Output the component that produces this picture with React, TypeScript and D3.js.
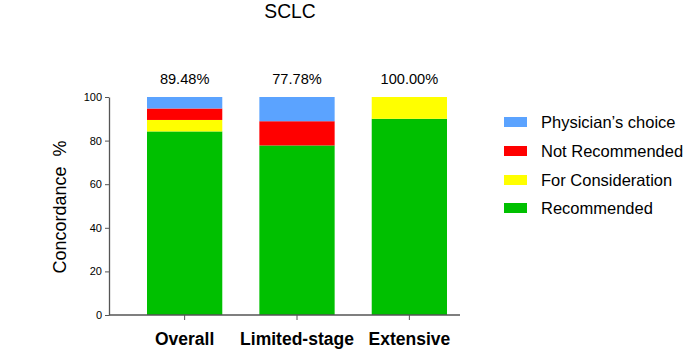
import React, { useEffect, useRef } from 'react';
import * as d3 from 'd3';

const categories = ['Overall', 'Limited-stage', 'Extensive'];
const seriesNames = ['Recommended', 'For Consideration', 'Not Recommended', "Physician\u2019s choice"];
const recommended = [84.21, 77.78, 90.0];
const forConsideration = [5.26, 0, 10.0];
const notRecommended = [5.26, 11.11, 0];
const physiciansChoice = [5.27, 11.11, 0];
const concordanceLabels = ['89.48%', '77.78%', '100.00%'];
const yTicks = [0, 20, 40, 60, 80, 100];
const colors = ['#00C000', '#FFFF00', '#FF0000', '#5BA3FF'];

const App = () => {
    const ref = useRef<SVGSVGElement>(null);

    useEffect(() => {
        const width = 690;
        const height = 352;
        const svg = d3.select(ref.current)
            .attr('width', width)
            .attr('height', height)
            .attr('font-family', 'Arial, "Liberation Sans", sans-serif');

        svg.selectAll('*').remove();

        const rows = categories.map((c, i) => ({
            cat: c,
            'Recommended': recommended[i],
            'For Consideration': forConsideration[i],
            'Not Recommended': notRecommended[i],
            "Physician\u2019s choice": physiciansChoice[i],
        }));

        const x = d3.scaleBand()
            .domain(categories)
            .range([147, 447])
            .paddingInner(0.33);

        const y = d3.scaleLinear()
            .domain([0, 100])
            .range([315, 97]);

        const color = d3.scaleOrdinal<string>().domain(seriesNames).range(colors);

        const stacked = d3.stack<any>().keys(seriesNames)(rows);

        svg.append('g')
            .selectAll('g')
            .data(stacked)
            .join('g')
            .attr('fill', d => color(d.key))
            .selectAll('rect')
            .data(d => d)
            .join('rect')
            .attr('x', d => x(d.data.cat)!)
            .attr('width', x.bandwidth())
            .attr('y', d => y(d[1]))
            .attr('height', d => y(d[0]) - y(d[1]));

        // y axis
        const yAxis = svg.append('g')
            .attr('transform', 'translate(109,0)')
            .call(d3.axisLeft(y).tickValues(yTicks).tickSize(4).tickSizeOuter(0));
        yAxis.select('.domain').attr('stroke', '#555').attr('stroke-width', 1.3);
        yAxis.selectAll('.tick line').attr('stroke', '#555');
        yAxis.selectAll('.tick text').attr('font-size', 11).attr('font-family', 'Arial, "Liberation Sans", sans-serif').attr('fill', '#000');

        // x axis
        const xAxisG = svg.append('g').attr('transform', 'translate(0,315)');
        xAxisG.append('line')
            .attr('x1', 109).attr('x2', 460)
            .attr('stroke', '#555').attr('stroke-width', 1.3);
        xAxisG.selectAll('line.tk')
            .data(categories)
            .join('line')
            .attr('class', 'tk')
            .attr('x1', d => x(d)! + x.bandwidth() / 2)
            .attr('x2', d => x(d)! + x.bandwidth() / 2)
            .attr('y1', 0).attr('y2', 5)
            .attr('stroke', '#555');
        xAxisG.selectAll('text')
            .data(categories)
            .join('text')
            .attr('x', d => x(d)! + x.bandwidth() / 2)
            .attr('y', 29.5)
            .attr('text-anchor', 'middle')
            .attr('font-size', 17.5)
            .attr('font-weight', 'bold')
            .text(d => d);

        // concordance labels above bars
        svg.append('g')
            .selectAll('text')
            .data(categories)
            .join('text')
            .attr('x', d => x(d)! + x.bandwidth() / 2)
            .attr('y', 83.5)
            .attr('text-anchor', 'middle')
            .attr('font-size', 14.6)
            .text((d, i) => concordanceLabels[i]);

        // title
        svg.append('text')
            .attr('x', 290)
            .attr('y', 17.5)
            .attr('text-anchor', 'middle')
            .attr('font-size', 19.3)
            .text('SCLC');

        // y label
        svg.append('text')
            .attr('transform', 'translate(66,207) rotate(-90)')
            .attr('text-anchor', 'middle')
            .attr('font-size', 18)
            .style('white-space', 'pre')
            .text('Concordance  %');

        // legend
        const legendData = seriesNames.slice().reverse();
        const rowY = [122, 151, 180, 208];
        const legend = svg.append('g')
            .selectAll('g')
            .data(legendData)
            .join('g')
            .attr('transform', (d, i) => `translate(504, ${rowY[i]})`);

        legend.append('rect')
            .attr('x', 0)
            .attr('y', -5)
            .attr('width', 23)
            .attr('height', 10)
            .attr('fill', d => color(d));

        legend.append('text')
            .attr('x', 37)
            .attr('y', 6)
            .attr('font-size', 16.5)
            .text(d => d);
    }, []);

    return <svg ref={ref} style={{ position: 'absolute', left: 0, top: 0 }}></svg>;
};

export default App;
